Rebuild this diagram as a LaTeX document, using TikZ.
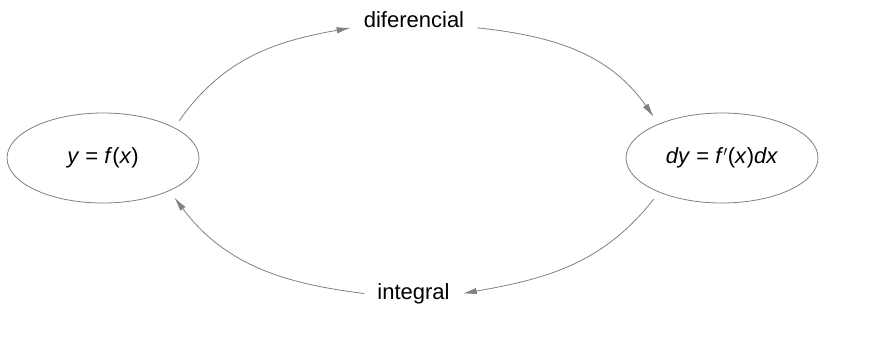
\documentclass[tikz,border=0pt]{standalone}
\usepackage{fontspec}
\setmainfont{Liberation Sans}
\usetikzlibrary{arrows.meta,shapes.geometric}

\begin{document}
\begin{tikzpicture}[x=1pt,y=1pt,
  oval/.style={draw=gray,line width=0.8pt,ellipse,minimum width=192pt,minimum height=90pt,inner sep=0pt,outer sep=9pt},
  lbl/.style={inner xsep=13pt,inner ysep=2pt},
  arr/.style={draw=gray,line width=0.8pt,-{Latex[length=14pt,width=6.5pt]}},
  font=\fontsize{22}{26}\selectfont]
\useasboundingbox (0,0) rectangle (876,-357);
\node[oval] (fx) at (103,-158) {\textit{y} = \textit{f}(\textit{x})};
\node[oval] (dfx) at (722,-158) {\textit{dy} = \textit{f}$^\prime$(\textit{x})\textit{dx}};
\node[lbl] (dif) at (414,-20) {diferencial};
\node[lbl] (int) at (413.5,-293.5) {integral};
\draw[arr] (fx.26) to[out=55,in=190] (dif.base west);
\draw[arr] (dif.base east) to[out=-6,in=125] (dfx.149);
\draw[arr] (dfx.211) to[out=232,in=10] (int.east);
\draw[arr] (int.west) to[out=173,in=307] (fx.331);
\end{tikzpicture}
\end{document}
